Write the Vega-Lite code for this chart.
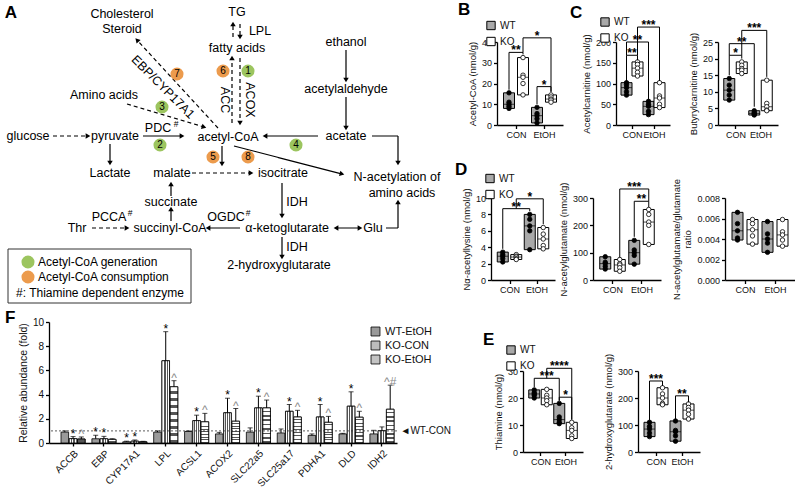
{
"$schema":"https://vega.github.io/schema/vega-lite/v6.json",
"padding":0,
"spacing":-27,
"resolve":{"scale":{"fill":"independent","strokeDash":"independent","color":"independent"},"legend":{"fill":"independent","strokeDash":"independent","color":"independent"}},
"config":{
 "font":"Liberation Sans",
 "view":{"stroke":null},
 "axis":{"grid":false,"domainColor":"black","domainWidth":1.3,"tickColor":"black","tickWidth":1.3,"tickSize":3.5,"labelColor":"#111","labelFontSize":9,"titleColor":"#111","titleFontSize":9.5,"titleFontWeight":"normal","labelFont":"Liberation Sans","titleFont":"Liberation Sans","labelPadding":2,"titlePadding":4},
 "legend":{"labelFont":"Liberation Sans","labelColor":"#111"},
 "title":{"fontSize":17,"fontWeight":"bold","anchor":"start","color":"black","font":"Liberation Sans","frame":"group","baseline":"alphabetic"},
 "text":{"font":"Liberation Sans","color":"black"}
},
"datasets":{
 "atext":[
  {"t":"A","x":11,"y":13,"r":"letter"},
  {"t":"Cholesterol","x":122,"y":14,"r":"n"},
  {"t":"Steroid","x":122,"y":29,"r":"n"},
  {"t":"TG","x":237,"y":12,"r":"n"},
  {"t":"LPL","x":260,"y":31,"r":"n"},
  {"t":"fatty acids","x":237,"y":48,"r":"n"},
  {"t":"ethanol","x":346,"y":42,"r":"n"},
  {"t":"acetylaldehyde","x":346,"y":89,"r":"n"},
  {"t":"Amino acids","x":104,"y":95,"r":"n"},
  {"t":"glucose","x":28,"y":136,"r":"n"},
  {"t":"pyruvate","x":115,"y":136,"r":"n"},
  {"t":"PDC","x":158,"y":128,"r":"n"},
  {"t":"acetyl-CoA","x":228,"y":137,"r":"n"},
  {"t":"acetate","x":346,"y":136,"r":"n"},
  {"t":"Lactate","x":110,"y":173,"r":"n"},
  {"t":"malate","x":172,"y":173,"r":"n"},
  {"t":"isocitrate","x":283,"y":173,"r":"n"},
  {"t":"N-acetylation of","x":397,"y":177,"r":"n"},
  {"t":"amino acids","x":402,"y":193,"r":"n"},
  {"t":"succinate","x":171,"y":202,"r":"n"},
  {"t":"IDH","x":297,"y":202,"r":"n"},
  {"t":"OGDC","x":226,"y":217,"r":"n"},
  {"t":"PCCA","x":109,"y":217,"r":"n"},
  {"t":"Thr","x":77,"y":228,"r":"n"},
  {"t":"succinyl-CoA","x":170,"y":228,"r":"n"},
  {"t":"α-ketoglutarate","x":287,"y":228,"r":"n"},
  {"t":"Glu","x":373,"y":228,"r":"n"},
  {"t":"IDH","x":297,"y":247,"r":"n"},
  {"t":"2-hydroxyglutarate","x":279,"y":265,"r":"n"},
  {"t":"#","x":176,"y":124,"r":"sup"},
  {"t":"#","x":248,"y":213,"r":"sup"},
  {"t":"#","x":130,"y":213,"r":"sup"},
  {"t":"EBP/CYP17A1","x":163,"y":87,"r":"rot","a":45},
  {"t":"ACC","x":225,"y":100,"r":"rot","a":90},
  {"t":"ACOX","x":250,"y":100,"r":"rot","a":90},
  {"t":"Acetyl-CoA generation","x":38,"y":262,"r":"leg"},
  {"t":"Acetyl-CoA consumption","x":38,"y":277,"r":"leg"},
  {"t":"#: Thiamine dependent enzyme","x":16,"y":293,"r":"leg"}
 ],
 "circ":[
  {"x":248,"y":71,"n":"1","t":"gen"},
  {"x":223,"y":71,"n":"6","t":"con"},
  {"x":177,"y":74,"n":"7","t":"con"},
  {"x":162,"y":107,"n":"3","t":"gen"},
  {"x":160,"y":145,"n":"2","t":"gen"},
  {"x":296,"y":145,"n":"4","t":"gen"},
  {"x":213,"y":157,"n":"5","t":"con"},
  {"x":248,"y":157,"n":"8","t":"con"},
  {"x":28,"y":262,"n":"","t":"gen"},
  {"x":28,"y":277,"n":"","t":"con"}
 ],
 "segs":[
  {"x":233,"y":37,"x2":233,"y2":24,"k":"i","h2":true},
  {"x":240,"y":24,"x2":240,"y2":37,"k":"i","h2":true},
  {"x":218,"y":128,"x2":137,"y2":40,"k":"i","h2":true},
  {"x":127,"y":104,"x2":204,"y2":127,"k":"i","h2":true},
  {"x":232,"y":123,"x2":232,"y2":58,"k":"i","h2":true},
  {"x":240,"y":58,"x2":240,"y2":123,"k":"i","h2":true},
  {"x":53,"y":136,"x2":88,"y2":136,"k":"i","h2":true},
  {"x":143,"y":136,"x2":182,"y2":136,"k":"d","h2":true},
  {"x":110,"y":144,"x2":110,"y2":163,"k":"d","h2":true},
  {"x":346,"y":50,"x2":346,"y2":80,"k":"d","h2":true},
  {"x":346,"y":97,"x2":346,"y2":128,"k":"d","h2":true},
  {"x":318,"y":136,"x2":265,"y2":136,"k":"d","h2":true},
  {"x":372,"y":136,"x2":398,"y2":136,"k":"d","h2":false},
  {"x":398,"y":136,"x2":398,"y2":163,"k":"d","h2":true},
  {"x":234,"y":146,"x2":342,"y2":174,"k":"d","h2":true},
  {"x":222,"y":146,"x2":222,"y2":164,"k":"d","h2":true},
  {"x":192,"y":173,"x2":251,"y2":173,"k":"i","h2":true},
  {"x":282,"y":183,"x2":282,"y2":216,"k":"d","h2":true},
  {"x":240,"y":228,"x2":208,"y2":228,"k":"d","h2":true},
  {"x":336,"y":228,"x2":360,"y2":228,"k":"d","h1":true,"h2":true},
  {"x":386,"y":228,"x2":398,"y2":228,"k":"d","h2":false},
  {"x":398,"y":228,"x2":398,"y2":202,"k":"d","h2":true},
  {"x":171,"y":221,"x2":171,"y2":209,"k":"d","h2":true},
  {"x":171,"y":196,"x2":171,"y2":184,"k":"d","h2":true},
  {"x":92,"y":228,"x2":127,"y2":228,"k":"i","h2":true},
  {"x":282,"y":237,"x2":282,"y2":257,"k":"d","h2":true}
 ],
 "lbox":[{"x":8,"y":249,"x2":191,"y2":303}],
 "pts":[
  {"p":"B","g":"CON","k":"WT","v":15.5},{"p":"B","g":"CON","k":"WT","v":11},{"p":"B","g":"CON","k":"WT","v":10},{"p":"B","g":"CON","k":"WT","v":9},{"p":"B","g":"CON","k":"WT","v":8},
  {"p":"B","g":"CON","k":"KO","v":32.5},{"p":"B","g":"CON","k":"KO","v":24},{"p":"B","g":"CON","k":"KO","v":23},{"p":"B","g":"CON","k":"KO","v":20},{"p":"B","g":"CON","k":"KO","v":14.5},
  {"p":"B","g":"EtOH","k":"WT","v":8.5},{"p":"B","g":"EtOH","k":"WT","v":5.5},{"p":"B","g":"EtOH","k":"WT","v":4.5},{"p":"B","g":"EtOH","k":"WT","v":3},{"p":"B","g":"EtOH","k":"WT","v":1},
  {"p":"B","g":"EtOH","k":"KO","v":14.5},{"p":"B","g":"EtOH","k":"KO","v":13.5},{"p":"B","g":"EtOH","k":"KO","v":12.5},{"p":"B","g":"EtOH","k":"KO","v":12},{"p":"B","g":"EtOH","k":"KO","v":11},
  {"p":"C1","g":"CON","k":"WT","v":102},{"p":"C1","g":"CON","k":"WT","v":97},{"p":"C1","g":"CON","k":"WT","v":90},{"p":"C1","g":"CON","k":"WT","v":80},{"p":"C1","g":"CON","k":"WT","v":72},
  {"p":"C1","g":"CON","k":"KO","v":152},{"p":"C1","g":"CON","k":"KO","v":146},{"p":"C1","g":"CON","k":"KO","v":137},{"p":"C1","g":"CON","k":"KO","v":127},{"p":"C1","g":"CON","k":"KO","v":118},
  {"p":"C1","g":"EtOH","k":"WT","v":57},{"p":"C1","g":"EtOH","k":"WT","v":50},{"p":"C1","g":"EtOH","k":"WT","v":45},{"p":"C1","g":"EtOH","k":"WT","v":33},{"p":"C1","g":"EtOH","k":"WT","v":25},
  {"p":"C1","g":"EtOH","k":"KO","v":102},{"p":"C1","g":"EtOH","k":"KO","v":70},{"p":"C1","g":"EtOH","k":"KO","v":65},{"p":"C1","g":"EtOH","k":"KO","v":50},{"p":"C1","g":"EtOH","k":"KO","v":42},
  {"p":"C2","g":"CON","k":"WT","v":14},{"p":"C2","g":"CON","k":"WT","v":12},{"p":"C2","g":"CON","k":"WT","v":10.5},{"p":"C2","g":"CON","k":"WT","v":9},{"p":"C2","g":"CON","k":"WT","v":7.5},
  {"p":"C2","g":"CON","k":"KO","v":19},{"p":"C2","g":"CON","k":"KO","v":18},{"p":"C2","g":"CON","k":"KO","v":17},{"p":"C2","g":"CON","k":"KO","v":16.5},{"p":"C2","g":"CON","k":"KO","v":15.5},
  {"p":"C2","g":"EtOH","k":"WT","v":4.3},{"p":"C2","g":"EtOH","k":"WT","v":3.8},{"p":"C2","g":"EtOH","k":"WT","v":3.5},{"p":"C2","g":"EtOH","k":"WT","v":3.2},{"p":"C2","g":"EtOH","k":"WT","v":3},
  {"p":"C2","g":"EtOH","k":"KO","v":13.5},{"p":"C2","g":"EtOH","k":"KO","v":6.5},{"p":"C2","g":"EtOH","k":"KO","v":5.5},{"p":"C2","g":"EtOH","k":"KO","v":4.5},{"p":"C2","g":"EtOH","k":"KO","v":4.3},
  {"p":"D1","g":"CON","k":"WT","v":3.4},{"p":"D1","g":"CON","k":"WT","v":3.1},{"p":"D1","g":"CON","k":"WT","v":2.9},{"p":"D1","g":"CON","k":"WT","v":2.6},{"p":"D1","g":"CON","k":"WT","v":2.2},
  {"p":"D1","g":"CON","k":"KO","v":3.1},{"p":"D1","g":"CON","k":"KO","v":2.9},{"p":"D1","g":"CON","k":"KO","v":2.8},{"p":"D1","g":"CON","k":"KO","v":2.6},{"p":"D1","g":"CON","k":"KO","v":2.5},
  {"p":"D1","g":"EtOH","k":"WT","v":8},{"p":"D1","g":"EtOH","k":"WT","v":7.4},{"p":"D1","g":"EtOH","k":"WT","v":6.6},{"p":"D1","g":"EtOH","k":"WT","v":6},{"p":"D1","g":"EtOH","k":"WT","v":3.7},
  {"p":"D1","g":"EtOH","k":"KO","v":6.4},{"p":"D1","g":"EtOH","k":"KO","v":5.6},{"p":"D1","g":"EtOH","k":"KO","v":5},{"p":"D1","g":"EtOH","k":"KO","v":4.2},{"p":"D1","g":"EtOH","k":"KO","v":3.8},
  {"p":"D2","g":"CON","k":"WT","v":85},{"p":"D2","g":"CON","k":"WT","v":65},{"p":"D2","g":"CON","k":"WT","v":60},{"p":"D2","g":"CON","k":"WT","v":50},{"p":"D2","g":"CON","k":"WT","v":40},
  {"p":"D2","g":"CON","k":"KO","v":75},{"p":"D2","g":"CON","k":"KO","v":60},{"p":"D2","g":"CON","k":"KO","v":55},{"p":"D2","g":"CON","k":"KO","v":45},{"p":"D2","g":"CON","k":"KO","v":32},
  {"p":"D2","g":"EtOH","k":"WT","v":145},{"p":"D2","g":"EtOH","k":"WT","v":110},{"p":"D2","g":"EtOH","k":"WT","v":100},{"p":"D2","g":"EtOH","k":"WT","v":90},{"p":"D2","g":"EtOH","k":"WT","v":58},
  {"p":"D2","g":"EtOH","k":"KO","v":258},{"p":"D2","g":"EtOH","k":"KO","v":240},{"p":"D2","g":"EtOH","k":"KO","v":212},{"p":"D2","g":"EtOH","k":"KO","v":200},{"p":"D2","g":"EtOH","k":"KO","v":130},
  {"p":"D3","g":"CON","k":"WT","v":0.0066},{"p":"D3","g":"CON","k":"WT","v":0.0055},{"p":"D3","g":"CON","k":"WT","v":0.0048},{"p":"D3","g":"CON","k":"WT","v":0.0041},{"p":"D3","g":"CON","k":"WT","v":0.0039},
  {"p":"D3","g":"CON","k":"KO","v":0.0059},{"p":"D3","g":"CON","k":"KO","v":0.0055},{"p":"D3","g":"CON","k":"KO","v":0.0049},{"p":"D3","g":"CON","k":"KO","v":0.0043},{"p":"D3","g":"CON","k":"KO","v":0.0035},
  {"p":"D3","g":"EtOH","k":"WT","v":0.0057},{"p":"D3","g":"EtOH","k":"WT","v":0.0045},{"p":"D3","g":"EtOH","k":"WT","v":0.004},{"p":"D3","g":"EtOH","k":"WT","v":0.0036},{"p":"D3","g":"EtOH","k":"WT","v":0.0027},
  {"p":"D3","g":"EtOH","k":"KO","v":0.0059},{"p":"D3","g":"EtOH","k":"KO","v":0.0047},{"p":"D3","g":"EtOH","k":"KO","v":0.0044},{"p":"D3","g":"EtOH","k":"KO","v":0.0039},{"p":"D3","g":"EtOH","k":"KO","v":0.0033},
  {"p":"E1","g":"CON","k":"WT","v":23},{"p":"E1","g":"CON","k":"WT","v":22},{"p":"E1","g":"CON","k":"WT","v":21.5},{"p":"E1","g":"CON","k":"WT","v":21},{"p":"E1","g":"CON","k":"WT","v":20},
  {"p":"E1","g":"CON","k":"KO","v":23.2},{"p":"E1","g":"CON","k":"KO","v":21},{"p":"E1","g":"CON","k":"KO","v":20},{"p":"E1","g":"CON","k":"KO","v":19},{"p":"E1","g":"CON","k":"KO","v":17.5},
  {"p":"E1","g":"EtOH","k":"WT","v":18},{"p":"E1","g":"EtOH","k":"WT","v":13},{"p":"E1","g":"EtOH","k":"WT","v":12},{"p":"E1","g":"EtOH","k":"WT","v":11},{"p":"E1","g":"EtOH","k":"WT","v":10.5},
  {"p":"E1","g":"EtOH","k":"KO","v":11},{"p":"E1","g":"EtOH","k":"KO","v":9},{"p":"E1","g":"EtOH","k":"KO","v":8},{"p":"E1","g":"EtOH","k":"KO","v":6},{"p":"E1","g":"EtOH","k":"KO","v":5},
  {"p":"E2","g":"CON","k":"WT","v":110},{"p":"E2","g":"CON","k":"WT","v":95},{"p":"E2","g":"CON","k":"WT","v":85},{"p":"E2","g":"CON","k":"WT","v":70},{"p":"E2","g":"CON","k":"WT","v":57},
  {"p":"E2","g":"CON","k":"KO","v":238},{"p":"E2","g":"CON","k":"KO","v":215},{"p":"E2","g":"CON","k":"KO","v":200},{"p":"E2","g":"CON","k":"KO","v":180},{"p":"E2","g":"CON","k":"KO","v":175},
  {"p":"E2","g":"EtOH","k":"WT","v":115},{"p":"E2","g":"EtOH","k":"WT","v":80},{"p":"E2","g":"EtOH","k":"WT","v":75},{"p":"E2","g":"EtOH","k":"WT","v":60},{"p":"E2","g":"EtOH","k":"WT","v":40},
  {"p":"E2","g":"EtOH","k":"KO","v":178},{"p":"E2","g":"EtOH","k":"KO","v":165},{"p":"E2","g":"EtOH","k":"KO","v":155},{"p":"E2","g":"EtOH","k":"KO","v":140},{"p":"E2","g":"EtOH","k":"KO","v":122}
 ],
 "br":[
  {"p":"B","g1":"CON","k1":"WT","g2":"CON","k2":"KO","lv":35,"l1":17,"l2":34,"s":"**"},
  {"p":"B","g1":"CON","k1":"KO","g2":"EtOH","k2":"KO","lv":42,"l1":35,"l2":16,"s":"*"},
  {"p":"B","g1":"EtOH","k1":"WT","g2":"EtOH","k2":"KO","lv":18.5,"l1":10,"l2":16,"s":"*"},
  {"p":"C1","g1":"CON","k1":"WT","g2":"CON","k2":"KO","lv":168,"l1":106,"l2":156,"s":"**"},
  {"p":"C1","g1":"CON","k1":"WT","g2":"EtOH","k2":"WT","lv":200,"l1":168,"l2":62,"s":"**"},
  {"p":"C1","g1":"CON","k1":"KO","g2":"EtOH","k2":"KO","lv":236,"l1":168,"l2":106,"s":"***"},
  {"p":"C2","g1":"CON","k1":"WT","g2":"CON","k2":"KO","lv":21,"l1":15,"l2":20,"s":"*"},
  {"p":"C2","g1":"CON","k1":"WT","g2":"EtOH","k2":"WT","lv":24.5,"l1":21,"l2":5.5,"s":"**"},
  {"p":"C2","g1":"CON","k1":"KO","g2":"EtOH","k2":"KO","lv":28.5,"l1":21,"l2":14.5,"s":"***"},
  {"p":"D1","g1":"CON","k1":"WT","g2":"EtOH","k2":"WT","lv":8.7,"l1":3.8,"l2":8.4,"s":"**"},
  {"p":"D1","g1":"CON","k1":"KO","g2":"EtOH","k2":"KO","lv":9.9,"l1":8.7,"l2":6.8,"s":"*"},
  {"p":"D2","g1":"CON","k1":"KO","g2":"EtOH","k2":"KO","lv":333,"l1":82,"l2":288,"s":"***"},
  {"p":"D2","g1":"EtOH","k1":"WT","g2":"EtOH","k2":"KO","lv":288,"l1":158,"l2":266,"s":"**"},
  {"p":"E1","g1":"CON","k1":"WT","g2":"EtOH","k2":"WT","lv":27.3,"l1":24,"l2":19,"s":"***"},
  {"p":"E1","g1":"CON","k1":"KO","g2":"EtOH","k2":"KO","lv":31,"l1":27.3,"l2":12,"s":"****"},
  {"p":"E1","g1":"EtOH","k1":"WT","g2":"EtOH","k2":"KO","lv":20.3,"l1":19,"l2":12,"s":"*"},
  {"p":"E2","g1":"CON","k1":"WT","g2":"CON","k2":"KO","lv":263,"l1":118,"l2":245,"s":"***"},
  {"p":"E2","g1":"EtOH","k1":"WT","g2":"EtOH","k2":"KO","lv":208,"l1":122,"l2":184,"s":"**"}
 ],
 "fold":[
  {"gene":"ACCB","s":"WT-EtOH","m":0.9,"e":1.0,"sig":""},{"gene":"ACCB","s":"KO-CON","m":0.36,"e":0.53,"sig":"*"},{"gene":"ACCB","s":"KO-EtOH","m":0.33,"e":0.5,"sig":"^"},
  {"gene":"EBP","s":"WT-EtOH","m":0.35,"e":0.64,"sig":"*"},{"gene":"EBP","s":"KO-CON","m":0.35,"e":0.55,"sig":"*"},{"gene":"EBP","s":"KO-EtOH","m":0.3,"e":0.35,"sig":""},
  {"gene":"CYP17A1","s":"WT-EtOH","m":0.1,"e":0.15,"sig":"*"},{"gene":"CYP17A1","s":"KO-CON","m":0.15,"e":0.25,"sig":"*"},{"gene":"CYP17A1","s":"KO-EtOH","m":0.1,"e":0.14,"sig":""},
  {"gene":"LPL","s":"WT-EtOH","m":0.9,"e":1.0,"sig":""},{"gene":"LPL","s":"KO-CON","m":6.8,"e":9.2,"sig":"*"},{"gene":"LPL","s":"KO-EtOH","m":4.65,"e":5.15,"sig":"^"},
  {"gene":"ACSL1","s":"WT-EtOH","m":0.95,"e":1.0,"sig":""},{"gene":"ACSL1","s":"KO-CON","m":1.85,"e":2.3,"sig":"*"},{"gene":"ACSL1","s":"KO-EtOH","m":1.75,"e":2.45,"sig":"^"},
  {"gene":"ACOX2","s":"WT-EtOH","m":0.75,"e":0.88,"sig":""},{"gene":"ACOX2","s":"KO-CON","m":2.5,"e":3.7,"sig":"*"},{"gene":"ACOX2","s":"KO-EtOH","m":1.8,"e":2.85,"sig":"^"},
  {"gene":"SLC22a5","s":"WT-EtOH","m":0.9,"e":1.25,"sig":""},{"gene":"SLC22a5","s":"KO-CON","m":2.9,"e":3.87,"sig":"*"},{"gene":"SLC22a5","s":"KO-EtOH","m":2.9,"e":3.55,"sig":"^"},
  {"gene":"SLC25a17","s":"WT-EtOH","m":0.83,"e":1.16,"sig":""},{"gene":"SLC25a17","s":"KO-CON","m":2.62,"e":3.18,"sig":"*"},{"gene":"SLC25a17","s":"KO-EtOH","m":2.15,"e":2.7,"sig":"^"},
  {"gene":"PDHA1","s":"WT-EtOH","m":0.63,"e":0.75,"sig":""},{"gene":"PDHA1","s":"KO-CON","m":2.15,"e":3.18,"sig":"*"},{"gene":"PDHA1","s":"KO-EtOH","m":1.71,"e":2.2,"sig":"^"},
  {"gene":"DLD","s":"WT-EtOH","m":0.75,"e":0.8,"sig":""},{"gene":"DLD","s":"KO-CON","m":3.04,"e":4.23,"sig":"*"},{"gene":"DLD","s":"KO-EtOH","m":2.13,"e":2.62,"sig":"^"},
  {"gene":"IDH2","s":"WT-EtOH","m":0.75,"e":1.05,"sig":""},{"gene":"IDH2","s":"KO-CON","m":1.02,"e":1.33,"sig":""},{"gene":"IDH2","s":"KO-EtOH","m":2.79,"e":4.78,"sig":"^#"}
 ]
},
"hconcat":[
 {"spacing":5,
  "resolve":{"scale":{"fill":"independent","strokeDash":"independent","color":"independent"},"legend":{"fill":"independent","strokeDash":"independent","color":"independent"}},
  "vconcat":[
  {"width":400,"height":300,
   "layer":[
    {"data":{"name":"lbox"},"mark":{"type":"rect","fill":"transparent","stroke":"#333","strokeWidth":1},
     "encoding":{"x":{"field":"x","type":"quantitative","scale":{"domain":[0,400],"nice":false,"zero":false},"axis":null},"x2":{"field":"x2"},
                 "y":{"field":"y","type":"quantitative","scale":{"domain":[0,300],"nice":false,"zero":false,"reverse":true},"axis":null},"y2":{"field":"y2"}}},
    {"data":{"name":"segs"},"mark":{"type":"rule","color":"black","strokeWidth":1.2},
     "encoding":{"x":{"field":"x","type":"quantitative","axis":null},"x2":{"field":"x2"},"y":{"field":"y","type":"quantitative","axis":null},"y2":{"field":"y2"},
                 "strokeDash":{"field":"k","type":"nominal","scale":{"domain":["d","i"],"range":[[1,0],[4,3]]},"legend":null}}},
    {"data":{"name":"segs"},"transform":[{"filter":"datum.h2"},{"calculate":"atan2(datum.x2-datum.x, datum.y-datum.y2)*180/PI","as":"ang"}],
     "mark":{"type":"point","shape":"triangle-up","filled":true,"color":"black","size":30,"opacity":1},
     "encoding":{"x":{"field":"x2","type":"quantitative","axis":null},"y":{"field":"y2","type":"quantitative","axis":null},"angle":{"field":"ang","type":"quantitative","scale":null}}},
    {"data":{"name":"segs"},"transform":[{"filter":"datum.h1"},{"calculate":"atan2(datum.x-datum.x2, datum.y2-datum.y)*180/PI","as":"ang"}],
     "mark":{"type":"point","shape":"triangle-up","filled":true,"color":"black","size":30,"opacity":1},
     "encoding":{"x":{"field":"x","type":"quantitative","axis":null},"y":{"field":"y","type":"quantitative","axis":null},"angle":{"field":"ang","type":"quantitative","scale":null}}},
    {"data":{"name":"circ"},"mark":{"type":"circle","size":170,"opacity":1},
     "encoding":{"x":{"field":"x","type":"quantitative","axis":null},"y":{"field":"y","type":"quantitative","axis":null},
                 "fill":{"field":"t","type":"nominal","scale":{"domain":["gen","con"],"range":["#9cc55f","#ec9b4d"]},"legend":null}}},
    {"data":{"name":"circ"},"mark":{"type":"text","fontSize":10,"align":"center","baseline":"middle"},
     "encoding":{"x":{"field":"x","type":"quantitative","axis":null},"y":{"field":"y","type":"quantitative","axis":null},"text":{"field":"n"}}},
    {"data":{"name":"atext"},"transform":[{"filter":"datum.r=='n'"}],"mark":{"type":"text","fontSize":12.5,"align":"center","baseline":"middle"},
     "encoding":{"x":{"field":"x","type":"quantitative","axis":null},"y":{"field":"y","type":"quantitative","axis":null},"text":{"field":"t"}}},
    {"data":{"name":"atext"},"transform":[{"filter":"datum.r=='sup'"}],"mark":{"type":"text","fontSize":8.5,"align":"center","baseline":"middle"},
     "encoding":{"x":{"field":"x","type":"quantitative","axis":null},"y":{"field":"y","type":"quantitative","axis":null},"text":{"field":"t"}}},
    {"data":{"name":"atext"},"transform":[{"filter":"datum.r=='rot'"}],"mark":{"type":"text","fontSize":12.5,"align":"center","baseline":"middle"},
     "encoding":{"x":{"field":"x","type":"quantitative","axis":null},"y":{"field":"y","type":"quantitative","axis":null},"text":{"field":"t"},"angle":{"field":"a","type":"quantitative","scale":null}}},
    {"data":{"name":"atext"},"transform":[{"filter":"datum.r=='leg'"}],"mark":{"type":"text","fontSize":12,"align":"left","baseline":"middle"},
     "encoding":{"x":{"field":"x","type":"quantitative","axis":null},"y":{"field":"y","type":"quantitative","axis":null},"text":{"field":"t"}}},
    {"data":{"name":"atext"},"transform":[{"filter":"datum.r=='letter'"}],"mark":{"type":"text","fontSize":17,"fontWeight":"bold","align":"center","baseline":"middle"},
     "encoding":{"x":{"field":"x","type":"quantitative","axis":null},"y":{"field":"y","type":"quantitative","axis":null},"text":{"field":"t"}}}
   ]},
  {"bounds":"flush","spacing":0,
   "resolve":{"scale":{"fill":"independent","strokeDash":"independent","color":"independent"},"legend":{"fill":"independent","strokeDash":"independent","color":"independent"}},
   "hconcat":[
   {"width":49,"height":1,"data":{"values":[{}]},"mark":{"type":"text","fontSize":0},"encoding":{"text":{"value":""}}},
   {"width":348,"height":121,
    "title":{"text":"F","dx":-44,"offset":-10},
    "data":{"name":"fold"},
    "resolve":{"axis":{"y":"independent"}},
    "layer":[
     {"mark":{"type":"bar","stroke":"black","strokeWidth":0.8},
      "encoding":{
       "x":{"field":"gene","type":"nominal","sort":null,"scale":{"domain":["ACCB","EBP","CYP17A1","LPL","ACSL1","ACOX2","SLC22a5","SLC25a17","PDHA1","DLD","IDH2"],"paddingInner":0.22,"paddingOuter":0.243,"align":0.8},"axis":{"title":null,"labelAngle":-45,"labelFontSize":10,"tickSize":3}},
       "xOffset":{"field":"s","type":"nominal","sort":null,"scale":{"domain":["WT-EtOH","KO-CON","KO-EtOH"],"paddingInner":0.08}},
       "y":{"field":"m","type":"quantitative","scale":{"domain":[0,10],"nice":false},"axis":{"values":[0,2,4,6,8,10],"title":"Relative abundance (fold)","titleFontSize":10.5,"labelFontSize":10}},
       "fill":{"field":"s","type":"nominal","scale":{"domain":["WT-EtOH","KO-CON","KO-EtOH"],"range":["#9a9a9a","#bdbdbd","#c4c4c4"]},
        "legend":{"orient":"none","legendX":321,"legendY":4,"title":null,"symbolType":"square","symbolSize":80,"symbolStrokeColor":"black","symbolStrokeWidth":0.8,"labelFontSize":11,"rowPadding":1}}
      }},
     {"transform":[{"filter":"datum.s=='KO-CON'"}],
      "mark":{"type":"bar","stroke":"black","strokeWidth":0.8,
        "fill":{"gradient":"linear","x1":0,"y1":0,"x2":1,"y2":0,"stops":[{"offset":0,"color":"#ffffff"},{"offset":0.22,"color":"#ffffff"},{"offset":0.22,"color":"#555555"},{"offset":0.34,"color":"#555555"},{"offset":0.34,"color":"#ffffff"},{"offset":0.44,"color":"#ffffff"},{"offset":0.44,"color":"#555555"},{"offset":0.56,"color":"#555555"},{"offset":0.56,"color":"#ffffff"},{"offset":0.66,"color":"#ffffff"},{"offset":0.66,"color":"#555555"},{"offset":0.78,"color":"#555555"},{"offset":0.78,"color":"#ffffff"},{"offset":1,"color":"#ffffff"}]}},
      "encoding":{"x":{"field":"gene","type":"nominal","sort":null},"xOffset":{"field":"s","type":"nominal","sort":null},"y":{"field":"m","type":"quantitative","axis":null}}},
     {"transform":[{"filter":"datum.s=='KO-EtOH'"}],
      "mark":{"type":"bar","stroke":"black","strokeWidth":0.8,
        "fill":{"gradient":"linear","x1":0,"y1":0,"x2":0,"y2":1,"stops":[{"offset":0,"color":"#ffffff"},{"offset":0.08,"color":"#ffffff"},{"offset":0.08,"color":"#555555"},{"offset":0.125,"color":"#555555"},{"offset":0.125,"color":"#ffffff"},{"offset":0.205,"color":"#ffffff"},{"offset":0.205,"color":"#555555"},{"offset":0.25,"color":"#555555"},{"offset":0.25,"color":"#ffffff"},{"offset":0.33,"color":"#ffffff"},{"offset":0.33,"color":"#555555"},{"offset":0.375,"color":"#555555"},{"offset":0.375,"color":"#ffffff"},{"offset":0.455,"color":"#ffffff"},{"offset":0.455,"color":"#555555"},{"offset":0.5,"color":"#555555"},{"offset":0.5,"color":"#ffffff"},{"offset":0.58,"color":"#ffffff"},{"offset":0.58,"color":"#555555"},{"offset":0.625,"color":"#555555"},{"offset":0.625,"color":"#ffffff"},{"offset":0.705,"color":"#ffffff"},{"offset":0.705,"color":"#555555"},{"offset":0.75,"color":"#555555"},{"offset":0.75,"color":"#ffffff"},{"offset":0.83,"color":"#ffffff"},{"offset":0.83,"color":"#555555"},{"offset":0.875,"color":"#555555"},{"offset":0.875,"color":"#ffffff"},{"offset":0.955,"color":"#ffffff"},{"offset":0.955,"color":"#555555"},{"offset":1,"color":"#555555"}]}},
      "encoding":{"x":{"field":"gene","type":"nominal","sort":null},"xOffset":{"field":"s","type":"nominal","sort":null},"y":{"field":"m","type":"quantitative","axis":null}}},
     {"mark":{"type":"rule","color":"black","strokeWidth":1},
      "encoding":{"x":{"field":"gene","type":"nominal","sort":null},"xOffset":{"field":"s","type":"nominal","sort":null},"y":{"field":"m","type":"quantitative","axis":null},"y2":{"field":"e"}}},
     {"mark":{"type":"tick","orient":"horizontal","size":5,"thickness":1,"color":"black"},
      "encoding":{"x":{"field":"gene","type":"nominal","sort":null},"xOffset":{"field":"s","type":"nominal","sort":null},"y":{"field":"e","type":"quantitative","axis":null}}},
     {"mark":{"type":"text","fontSize":12,"baseline":"alphabetic","dy":1},
      "encoding":{"x":{"field":"gene","type":"nominal","sort":null},"xOffset":{"field":"s","type":"nominal","sort":null},"y":{"field":"e","type":"quantitative","axis":null},"text":{"field":"sig"},
                  "color":{"condition":{"test":"indexof(datum.sig,'^')>=0","value":"#8a8a8a"},"value":"black"}}},
     {"data":{"values":[{}]},"mark":{"type":"rule","strokeDash":[2,2],"color":"#333","strokeWidth":0.8},
      "encoding":{"y":{"datum":1,"type":"quantitative","axis":{"orient":"right","values":[1],"labelExpr":"'◄WT-CON'","domain":false,"ticks":false,"title":null,"labelFontSize":10,"labelPadding":3}}}}
    ]}
  ]}
 ]},
 {"spacing":0,
  "resolve":{"scale":{"fill":"independent","strokeDash":"independent","color":"independent"},"legend":{"fill":"independent","strokeDash":"independent","color":"independent"}},
  "vconcat":[
  {"width":1,"height":1,"data":{"values":[{}]},"mark":{"type":"text","fontSize":0},"encoding":{"text":{"value":""}}},
  {"bounds":"flush","spacing":0,
   "resolve":{"scale":{"fill":"independent","strokeDash":"independent","color":"independent"},"legend":{"fill":"independent","strokeDash":"independent","color":"independent"}},
   "hconcat":[
   {"width":46,"height":1,"data":{"values":[{}]},"mark":{"type":"text","fontSize":0},"encoding":{"text":{"value":""}}},
   {"width":66,"height":83,"title":{"text":"B","dx":-39,"offset":1.5},
    "resolve":{"axis":{"x":"independent","y":"independent"}},
    "layer":[
     {"data":{"name":"pts"},"transform":[{"filter":"datum.p=='B'"},{"calculate":"(datum.g=='CON'?1:2)+(datum.k=='WT'?-0.25:0.25)","as":"pos"},{"aggregate":[{"op":"min","field":"v","as":"lo"},{"op":"max","field":"v","as":"hi"}],"groupby":["pos","k"]}],
      "mark":{"type":"bar","width":11,"stroke":"black","strokeWidth":1},
      "encoding":{"x":{"field":"pos","type":"quantitative","scale":{"domain":[0.5,2.5],"nice":false,"zero":false},"axis":{"values":[1,2],"labelExpr":"datum.value==1?'CON':'EtOH'","title":null,"labelFontSize":9}},
                  "y":{"field":"lo","type":"quantitative","scale":{"domain":[0,40],"nice":false},"axis":{"values":[0,10,20,30,40],"title":"Acetyl-CoA (nmol/g)"}},"y2":{"field":"hi"},
                  "fill":{"field":"k","type":"nominal","scale":{"domain":["WT","KO"],"range":["#a9a9a9","#ffffff"]},"legend":{"orient":"none","legendX":-11,"legendY":-21.5,"title":null,"symbolType":"square","symbolSize":70,"symbolStrokeColor":"black","symbolStrokeWidth":1,"labelFontSize":10,"rowPadding":2}}}},
     {"data":{"name":"pts"},"transform":[{"filter":"datum.p=='B'"},{"calculate":"(datum.g=='CON'?1:2)+(datum.k=='WT'?-0.25:0.25)","as":"pos"},{"aggregate":[{"op":"median","field":"v","as":"md"}],"groupby":["pos"]}],
      "mark":{"type":"tick","orient":"horizontal","size":11,"thickness":1,"color":"black"},
      "encoding":{"x":{"field":"pos","type":"quantitative","axis":null},"y":{"field":"md","type":"quantitative","axis":null}}},
     {"data":{"name":"pts"},"transform":[{"filter":"datum.p=='B'"},{"calculate":"(datum.g=='CON'?1:2)+(datum.k=='WT'?-0.25:0.25)","as":"pos"}],
      "mark":{"type":"point","filled":true,"size":20,"stroke":"black","strokeWidth":0.8,"opacity":1},
      "encoding":{"x":{"field":"pos","type":"quantitative","axis":null},"y":{"field":"v","type":"quantitative","axis":null},"fill":{"condition":{"test":"datum.k=='WT'","value":"black"},"value":"white"}}},
     {"data":{"name":"br"},"transform":[{"filter":"datum.p=='B'"},{"calculate":"(datum.g1=='CON'?1:2)+(datum.k1=='WT'?-0.25:0.25)","as":"bx1"},{"calculate":"(datum.g2=='CON'?1:2)+(datum.k2=='WT'?-0.25:0.25)","as":"bx2"}],
      "mark":{"type":"rule","color":"black","strokeWidth":1},"encoding":{"x":{"field":"bx1","type":"quantitative","axis":null},"x2":{"field":"bx2"},"y":{"field":"lv","type":"quantitative","axis":null}}},
     {"data":{"name":"br"},"transform":[{"filter":"datum.p=='B'"},{"calculate":"(datum.g1=='CON'?1:2)+(datum.k1=='WT'?-0.25:0.25)","as":"bx1"}],
      "mark":{"type":"rule","color":"black","strokeWidth":1},"encoding":{"x":{"field":"bx1","type":"quantitative","axis":null},"y":{"field":"lv","type":"quantitative","axis":null},"y2":{"field":"l1"}}},
     {"data":{"name":"br"},"transform":[{"filter":"datum.p=='B'"},{"calculate":"(datum.g2=='CON'?1:2)+(datum.k2=='WT'?-0.25:0.25)","as":"bx2"}],
      "mark":{"type":"rule","color":"black","strokeWidth":1},"encoding":{"x":{"field":"bx2","type":"quantitative","axis":null},"y":{"field":"lv","type":"quantitative","axis":null},"y2":{"field":"l2"}}},
     {"data":{"name":"br"},"transform":[{"filter":"datum.p=='B'"},{"calculate":"((datum.g1=='CON'?1:2)+(datum.k1=='WT'?-0.25:0.25)+(datum.g2=='CON'?1:2)+(datum.k2=='WT'?-0.25:0.25))/2","as":"bxm"}],
      "mark":{"type":"text","fontSize":12,"fontWeight":"bold","baseline":"alphabetic","dy":2},"encoding":{"x":{"field":"bxm","type":"quantitative","axis":null},"y":{"field":"lv","type":"quantitative","axis":null},"text":{"field":"s"}}}
    ]},
   {"width":53,"height":1,"data":{"values":[{}]},"mark":{"type":"text","fontSize":0},"encoding":{"text":{"value":""}}},
   {"width":54,"height":83,"title":{"text":"C","dx":-46,"offset":-5},
    "resolve":{"axis":{"x":"independent","y":"independent"}},
    "layer":[
     {"data":{"name":"pts"},"transform":[{"filter":"datum.p=='C1'"},{"calculate":"(datum.g=='CON'?1:2)+(datum.k=='WT'?-0.25:0.25)","as":"pos"},{"aggregate":[{"op":"min","field":"v","as":"lo"},{"op":"max","field":"v","as":"hi"}],"groupby":["pos","k"]}],
      "mark":{"type":"bar","width":11,"stroke":"black","strokeWidth":1},
      "encoding":{"x":{"field":"pos","type":"quantitative","scale":{"domain":[0.5,2.5],"nice":false,"zero":false},"axis":{"values":[1,2],"labelExpr":"datum.value==1?'CON':'EtOH'","title":null,"labelFontSize":9}},
                  "y":{"field":"lo","type":"quantitative","scale":{"domain":[0,200],"nice":false},"axis":{"values":[0,50,100,150,200],"title":"Acetylcarnitine (nmol/g)"}},"y2":{"field":"hi"},
                  "fill":{"field":"k","type":"nominal","scale":{"domain":["WT","KO"],"range":["#a9a9a9","#ffffff"]},"legend":{"orient":"none","legendX":-16,"legendY":-25,"title":null,"symbolType":"square","symbolSize":70,"symbolStrokeColor":"black","symbolStrokeWidth":1,"labelFontSize":10,"rowPadding":2}}}},
     {"data":{"name":"pts"},"transform":[{"filter":"datum.p=='C1'"},{"calculate":"(datum.g=='CON'?1:2)+(datum.k=='WT'?-0.25:0.25)","as":"pos"},{"aggregate":[{"op":"median","field":"v","as":"md"}],"groupby":["pos"]}],
      "mark":{"type":"tick","orient":"horizontal","size":11,"thickness":1,"color":"black"},
      "encoding":{"x":{"field":"pos","type":"quantitative","axis":null},"y":{"field":"md","type":"quantitative","axis":null}}},
     {"data":{"name":"pts"},"transform":[{"filter":"datum.p=='C1'"},{"calculate":"(datum.g=='CON'?1:2)+(datum.k=='WT'?-0.25:0.25)","as":"pos"}],
      "mark":{"type":"point","filled":true,"size":20,"stroke":"black","strokeWidth":0.8,"opacity":1},
      "encoding":{"x":{"field":"pos","type":"quantitative","axis":null},"y":{"field":"v","type":"quantitative","axis":null},"fill":{"condition":{"test":"datum.k=='WT'","value":"black"},"value":"white"}}},
     {"data":{"name":"br"},"transform":[{"filter":"datum.p=='C1'"},{"calculate":"(datum.g1=='CON'?1:2)+(datum.k1=='WT'?-0.25:0.25)","as":"bx1"},{"calculate":"(datum.g2=='CON'?1:2)+(datum.k2=='WT'?-0.25:0.25)","as":"bx2"}],
      "mark":{"type":"rule","color":"black","strokeWidth":1},"encoding":{"x":{"field":"bx1","type":"quantitative","axis":null},"x2":{"field":"bx2"},"y":{"field":"lv","type":"quantitative","axis":null}}},
     {"data":{"name":"br"},"transform":[{"filter":"datum.p=='C1'"},{"calculate":"(datum.g1=='CON'?1:2)+(datum.k1=='WT'?-0.25:0.25)","as":"bx1"}],
      "mark":{"type":"rule","color":"black","strokeWidth":1},"encoding":{"x":{"field":"bx1","type":"quantitative","axis":null},"y":{"field":"lv","type":"quantitative","axis":null},"y2":{"field":"l1"}}},
     {"data":{"name":"br"},"transform":[{"filter":"datum.p=='C1'"},{"calculate":"(datum.g2=='CON'?1:2)+(datum.k2=='WT'?-0.25:0.25)","as":"bx2"}],
      "mark":{"type":"rule","color":"black","strokeWidth":1},"encoding":{"x":{"field":"bx2","type":"quantitative","axis":null},"y":{"field":"lv","type":"quantitative","axis":null},"y2":{"field":"l2"}}},
     {"data":{"name":"br"},"transform":[{"filter":"datum.p=='C1'"},{"calculate":"((datum.g1=='CON'?1:2)+(datum.k1=='WT'?-0.25:0.25)+(datum.g2=='CON'?1:2)+(datum.k2=='WT'?-0.25:0.25))/2","as":"bxm"}],
      "mark":{"type":"text","fontSize":12,"fontWeight":"bold","baseline":"alphabetic","dy":2},"encoding":{"x":{"field":"bxm","type":"quantitative","axis":null},"y":{"field":"lv","type":"quantitative","axis":null},"text":{"field":"s"}}}
    ]},
   {"width":48,"height":1,"data":{"values":[{}]},"mark":{"type":"text","fontSize":0},"encoding":{"text":{"value":""}}},
   {"width":60,"height":83,
    "resolve":{"axis":{"x":"independent","y":"independent"}},
    "layer":[
     {"data":{"name":"pts"},"transform":[{"filter":"datum.p=='C2'"},{"calculate":"(datum.g=='CON'?1:2)+(datum.k=='WT'?-0.25:0.25)","as":"pos"},{"aggregate":[{"op":"min","field":"v","as":"lo"},{"op":"max","field":"v","as":"hi"}],"groupby":["pos","k"]}],
      "mark":{"type":"bar","width":11,"stroke":"black","strokeWidth":1},
      "encoding":{"x":{"field":"pos","type":"quantitative","scale":{"domain":[0.5,2.5],"nice":false,"zero":false},"axis":{"values":[1,2],"labelExpr":"datum.value==1?'CON':'EtOH'","title":null,"labelFontSize":9}},
                  "y":{"field":"lo","type":"quantitative","scale":{"domain":[0,25],"nice":false},"axis":{"values":[0,5,10,15,20,25],"title":"Butyrylcarnitine (nmol/g)"}},"y2":{"field":"hi"},
                  "fill":{"field":"k","type":"nominal","scale":{"domain":["WT","KO"],"range":["#a9a9a9","#ffffff"]},"legend":null}}},
     {"data":{"name":"pts"},"transform":[{"filter":"datum.p=='C2'"},{"calculate":"(datum.g=='CON'?1:2)+(datum.k=='WT'?-0.25:0.25)","as":"pos"},{"aggregate":[{"op":"median","field":"v","as":"md"}],"groupby":["pos"]}],
      "mark":{"type":"tick","orient":"horizontal","size":11,"thickness":1,"color":"black"},
      "encoding":{"x":{"field":"pos","type":"quantitative","axis":null},"y":{"field":"md","type":"quantitative","axis":null}}},
     {"data":{"name":"pts"},"transform":[{"filter":"datum.p=='C2'"},{"calculate":"(datum.g=='CON'?1:2)+(datum.k=='WT'?-0.25:0.25)","as":"pos"}],
      "mark":{"type":"point","filled":true,"size":20,"stroke":"black","strokeWidth":0.8,"opacity":1},
      "encoding":{"x":{"field":"pos","type":"quantitative","axis":null},"y":{"field":"v","type":"quantitative","axis":null},"fill":{"condition":{"test":"datum.k=='WT'","value":"black"},"value":"white"}}},
     {"data":{"name":"br"},"transform":[{"filter":"datum.p=='C2'"},{"calculate":"(datum.g1=='CON'?1:2)+(datum.k1=='WT'?-0.25:0.25)","as":"bx1"},{"calculate":"(datum.g2=='CON'?1:2)+(datum.k2=='WT'?-0.25:0.25)","as":"bx2"}],
      "mark":{"type":"rule","color":"black","strokeWidth":1},"encoding":{"x":{"field":"bx1","type":"quantitative","axis":null},"x2":{"field":"bx2"},"y":{"field":"lv","type":"quantitative","axis":null}}},
     {"data":{"name":"br"},"transform":[{"filter":"datum.p=='C2'"},{"calculate":"(datum.g1=='CON'?1:2)+(datum.k1=='WT'?-0.25:0.25)","as":"bx1"}],
      "mark":{"type":"rule","color":"black","strokeWidth":1},"encoding":{"x":{"field":"bx1","type":"quantitative","axis":null},"y":{"field":"lv","type":"quantitative","axis":null},"y2":{"field":"l1"}}},
     {"data":{"name":"br"},"transform":[{"filter":"datum.p=='C2'"},{"calculate":"(datum.g2=='CON'?1:2)+(datum.k2=='WT'?-0.25:0.25)","as":"bx2"}],
      "mark":{"type":"rule","color":"black","strokeWidth":1},"encoding":{"x":{"field":"bx2","type":"quantitative","axis":null},"y":{"field":"lv","type":"quantitative","axis":null},"y2":{"field":"l2"}}},
     {"data":{"name":"br"},"transform":[{"filter":"datum.p=='C2'"},{"calculate":"((datum.g1=='CON'?1:2)+(datum.k1=='WT'?-0.25:0.25)+(datum.g2=='CON'?1:2)+(datum.k2=='WT'?-0.25:0.25))/2","as":"bxm"}],
      "mark":{"type":"text","fontSize":12,"fontWeight":"bold","baseline":"alphabetic","dy":2},"encoding":{"x":{"field":"bxm","type":"quantitative","axis":null},"y":{"field":"lv","type":"quantitative","axis":null},"text":{"field":"s"}}}
    ]}
  ]},
  {"width":1,"height":21,"data":{"values":[{}]},"mark":{"type":"text","fontSize":0},"encoding":{"text":{"value":""}}},
  {"bounds":"flush","spacing":0,
   "resolve":{"scale":{"fill":"independent","strokeDash":"independent","color":"independent"},"legend":{"fill":"independent","strokeDash":"independent","color":"independent"}},
   "hconcat":[
   {"width":40,"height":1,"data":{"values":[{}]},"mark":{"type":"text","fontSize":0},"encoding":{"text":{"value":""}}},
   {"width":64,"height":82,"title":{"text":"D","dx":-36,"offset":-5.5},
    "resolve":{"axis":{"x":"independent","y":"independent"}},
    "layer":[
     {"data":{"name":"pts"},"transform":[{"filter":"datum.p=='D1'"},{"calculate":"(datum.g=='CON'?1:2)+(datum.k=='WT'?-0.25:0.25)","as":"pos"},{"aggregate":[{"op":"min","field":"v","as":"lo"},{"op":"max","field":"v","as":"hi"}],"groupby":["pos","k"]}],
      "mark":{"type":"bar","width":11,"stroke":"black","strokeWidth":1},
      "encoding":{"x":{"field":"pos","type":"quantitative","scale":{"domain":[0.5,2.5],"nice":false,"zero":false},"axis":{"values":[1,2],"labelExpr":"datum.value==1?'CON':'EtOH'","title":null,"labelFontSize":9}},
                  "y":{"field":"lo","type":"quantitative","scale":{"domain":[0,10],"nice":false},"axis":{"values":[0,2,4,6,8,10],"title":"Nα-acetyllysine (nmol/g)"}},"y2":{"field":"hi"},
                  "fill":{"field":"k","type":"nominal","scale":{"domain":["WT","KO"],"range":["#a9a9a9","#ffffff"]},"legend":{"orient":"none","legendX":-6,"legendY":-24.5,"title":null,"symbolType":"square","symbolSize":70,"symbolStrokeColor":"black","symbolStrokeWidth":1,"labelFontSize":10,"rowPadding":2}}}},
     {"data":{"name":"pts"},"transform":[{"filter":"datum.p=='D1'"},{"calculate":"(datum.g=='CON'?1:2)+(datum.k=='WT'?-0.25:0.25)","as":"pos"},{"aggregate":[{"op":"median","field":"v","as":"md"}],"groupby":["pos"]}],
      "mark":{"type":"tick","orient":"horizontal","size":11,"thickness":1,"color":"black"},
      "encoding":{"x":{"field":"pos","type":"quantitative","axis":null},"y":{"field":"md","type":"quantitative","axis":null}}},
     {"data":{"name":"pts"},"transform":[{"filter":"datum.p=='D1'"},{"calculate":"(datum.g=='CON'?1:2)+(datum.k=='WT'?-0.25:0.25)","as":"pos"}],
      "mark":{"type":"point","filled":true,"size":20,"stroke":"black","strokeWidth":0.8,"opacity":1},
      "encoding":{"x":{"field":"pos","type":"quantitative","axis":null},"y":{"field":"v","type":"quantitative","axis":null},"fill":{"condition":{"test":"datum.k=='WT'","value":"black"},"value":"white"}}},
     {"data":{"name":"br"},"transform":[{"filter":"datum.p=='D1'"},{"calculate":"(datum.g1=='CON'?1:2)+(datum.k1=='WT'?-0.25:0.25)","as":"bx1"},{"calculate":"(datum.g2=='CON'?1:2)+(datum.k2=='WT'?-0.25:0.25)","as":"bx2"}],
      "mark":{"type":"rule","color":"black","strokeWidth":1},"encoding":{"x":{"field":"bx1","type":"quantitative","axis":null},"x2":{"field":"bx2"},"y":{"field":"lv","type":"quantitative","axis":null}}},
     {"data":{"name":"br"},"transform":[{"filter":"datum.p=='D1'"},{"calculate":"(datum.g1=='CON'?1:2)+(datum.k1=='WT'?-0.25:0.25)","as":"bx1"}],
      "mark":{"type":"rule","color":"black","strokeWidth":1},"encoding":{"x":{"field":"bx1","type":"quantitative","axis":null},"y":{"field":"lv","type":"quantitative","axis":null},"y2":{"field":"l1"}}},
     {"data":{"name":"br"},"transform":[{"filter":"datum.p=='D1'"},{"calculate":"(datum.g2=='CON'?1:2)+(datum.k2=='WT'?-0.25:0.25)","as":"bx2"}],
      "mark":{"type":"rule","color":"black","strokeWidth":1},"encoding":{"x":{"field":"bx2","type":"quantitative","axis":null},"y":{"field":"lv","type":"quantitative","axis":null},"y2":{"field":"l2"}}},
     {"data":{"name":"br"},"transform":[{"filter":"datum.p=='D1'"},{"calculate":"((datum.g1=='CON'?1:2)+(datum.k1=='WT'?-0.25:0.25)+(datum.g2=='CON'?1:2)+(datum.k2=='WT'?-0.25:0.25))/2","as":"bxm"}],
      "mark":{"type":"text","fontSize":12,"fontWeight":"bold","baseline":"alphabetic","dy":2},"encoding":{"x":{"field":"bxm","type":"quantitative","axis":null},"y":{"field":"lv","type":"quantitative","axis":null},"text":{"field":"s"}}}
    ]},
   {"width":38,"height":1,"data":{"values":[{}]},"mark":{"type":"text","fontSize":0},"encoding":{"text":{"value":""}}},
   {"width":68,"height":82,
    "resolve":{"axis":{"x":"independent","y":"independent"}},
    "layer":[
     {"data":{"name":"pts"},"transform":[{"filter":"datum.p=='D2'"},{"calculate":"(datum.g=='CON'?1:2)+(datum.k=='WT'?-0.25:0.25)","as":"pos"},{"aggregate":[{"op":"min","field":"v","as":"lo"},{"op":"max","field":"v","as":"hi"}],"groupby":["pos","k"]}],
      "mark":{"type":"bar","width":11,"stroke":"black","strokeWidth":1},
      "encoding":{"x":{"field":"pos","type":"quantitative","scale":{"domain":[0.5,2.5],"nice":false,"zero":false},"axis":{"values":[1,2],"labelExpr":"datum.value==1?'CON':'EtOH'","title":null,"labelFontSize":9}},
                  "y":{"field":"lo","type":"quantitative","scale":{"domain":[0,300],"nice":false},"axis":{"values":[0,100,200,300],"title":"N-acetylglutamate (nmol/g)"}},"y2":{"field":"hi"},
                  "fill":{"field":"k","type":"nominal","scale":{"domain":["WT","KO"],"range":["#a9a9a9","#ffffff"]},"legend":null}}},
     {"data":{"name":"pts"},"transform":[{"filter":"datum.p=='D2'"},{"calculate":"(datum.g=='CON'?1:2)+(datum.k=='WT'?-0.25:0.25)","as":"pos"},{"aggregate":[{"op":"median","field":"v","as":"md"}],"groupby":["pos"]}],
      "mark":{"type":"tick","orient":"horizontal","size":11,"thickness":1,"color":"black"},
      "encoding":{"x":{"field":"pos","type":"quantitative","axis":null},"y":{"field":"md","type":"quantitative","axis":null}}},
     {"data":{"name":"pts"},"transform":[{"filter":"datum.p=='D2'"},{"calculate":"(datum.g=='CON'?1:2)+(datum.k=='WT'?-0.25:0.25)","as":"pos"}],
      "mark":{"type":"point","filled":true,"size":20,"stroke":"black","strokeWidth":0.8,"opacity":1},
      "encoding":{"x":{"field":"pos","type":"quantitative","axis":null},"y":{"field":"v","type":"quantitative","axis":null},"fill":{"condition":{"test":"datum.k=='WT'","value":"black"},"value":"white"}}},
     {"data":{"name":"br"},"transform":[{"filter":"datum.p=='D2'"},{"calculate":"(datum.g1=='CON'?1:2)+(datum.k1=='WT'?-0.25:0.25)","as":"bx1"},{"calculate":"(datum.g2=='CON'?1:2)+(datum.k2=='WT'?-0.25:0.25)","as":"bx2"}],
      "mark":{"type":"rule","color":"black","strokeWidth":1},"encoding":{"x":{"field":"bx1","type":"quantitative","axis":null},"x2":{"field":"bx2"},"y":{"field":"lv","type":"quantitative","axis":null}}},
     {"data":{"name":"br"},"transform":[{"filter":"datum.p=='D2'"},{"calculate":"(datum.g1=='CON'?1:2)+(datum.k1=='WT'?-0.25:0.25)","as":"bx1"}],
      "mark":{"type":"rule","color":"black","strokeWidth":1},"encoding":{"x":{"field":"bx1","type":"quantitative","axis":null},"y":{"field":"lv","type":"quantitative","axis":null},"y2":{"field":"l1"}}},
     {"data":{"name":"br"},"transform":[{"filter":"datum.p=='D2'"},{"calculate":"(datum.g2=='CON'?1:2)+(datum.k2=='WT'?-0.25:0.25)","as":"bx2"}],
      "mark":{"type":"rule","color":"black","strokeWidth":1},"encoding":{"x":{"field":"bx2","type":"quantitative","axis":null},"y":{"field":"lv","type":"quantitative","axis":null},"y2":{"field":"l2"}}},
     {"data":{"name":"br"},"transform":[{"filter":"datum.p=='D2'"},{"calculate":"((datum.g1=='CON'?1:2)+(datum.k1=='WT'?-0.25:0.25)+(datum.g2=='CON'?1:2)+(datum.k2=='WT'?-0.25:0.25))/2","as":"bxm"}],
      "mark":{"type":"text","fontSize":12,"fontWeight":"bold","baseline":"alphabetic","dy":2},"encoding":{"x":{"field":"bxm","type":"quantitative","axis":null},"y":{"field":"lv","type":"quantitative","axis":null},"text":{"field":"s"}}}
    ]},
   {"width":64,"height":1,"data":{"values":[{}]},"mark":{"type":"text","fontSize":0},"encoding":{"text":{"value":""}}},
   {"width":70,"height":82,
    "resolve":{"axis":{"x":"independent","y":"independent"}},
    "layer":[
     {"data":{"name":"pts"},"transform":[{"filter":"datum.p=='D3'"},{"calculate":"(datum.g=='CON'?1:2)+(datum.k=='WT'?-0.25:0.25)","as":"pos"},{"aggregate":[{"op":"min","field":"v","as":"lo"},{"op":"max","field":"v","as":"hi"}],"groupby":["pos","k"]}],
      "mark":{"type":"bar","width":11,"stroke":"black","strokeWidth":1},
      "encoding":{"x":{"field":"pos","type":"quantitative","scale":{"domain":[0.5,2.5],"nice":false,"zero":false},"axis":{"values":[1,2],"labelExpr":"datum.value==1?'CON':'EtOH'","title":null,"labelFontSize":9}},
                  "y":{"field":"lo","type":"quantitative","scale":{"domain":[0,0.008],"nice":false},"axis":{"values":[0,0.002,0.004,0.006,0.008],"format":".3f","title":["N-acetylglutamate/glutamate","ratio"]}},"y2":{"field":"hi"},
                  "fill":{"field":"k","type":"nominal","scale":{"domain":["WT","KO"],"range":["#a9a9a9","#ffffff"]},"legend":null}}},
     {"data":{"name":"pts"},"transform":[{"filter":"datum.p=='D3'"},{"calculate":"(datum.g=='CON'?1:2)+(datum.k=='WT'?-0.25:0.25)","as":"pos"},{"aggregate":[{"op":"median","field":"v","as":"md"}],"groupby":["pos"]}],
      "mark":{"type":"tick","orient":"horizontal","size":11,"thickness":1,"color":"black"},
      "encoding":{"x":{"field":"pos","type":"quantitative","axis":null},"y":{"field":"md","type":"quantitative","axis":null}}},
     {"data":{"name":"pts"},"transform":[{"filter":"datum.p=='D3'"},{"calculate":"(datum.g=='CON'?1:2)+(datum.k=='WT'?-0.25:0.25)","as":"pos"}],
      "mark":{"type":"point","filled":true,"size":20,"stroke":"black","strokeWidth":0.8,"opacity":1},
      "encoding":{"x":{"field":"pos","type":"quantitative","axis":null},"y":{"field":"v","type":"quantitative","axis":null},"fill":{"condition":{"test":"datum.k=='WT'","value":"black"},"value":"white"}}}
    ]}
  ]},
  {"width":1,"height":31,"data":{"values":[{}]},"mark":{"type":"text","fontSize":0},"encoding":{"text":{"value":""}}},
  {"bounds":"flush","spacing":0,
   "resolve":{"scale":{"fill":"independent","strokeDash":"independent","color":"independent"},"legend":{"fill":"independent","strokeDash":"independent","color":"independent"}},
   "hconcat":[
   {"width":72,"height":1,"data":{"values":[{}]},"mark":{"type":"text","fontSize":0},"encoding":{"text":{"value":""}}},
   {"width":60,"height":81,"title":{"text":"E","dx":-40,"offset":-4},
    "resolve":{"axis":{"x":"independent","y":"independent"}},
    "layer":[
     {"data":{"name":"pts"},"transform":[{"filter":"datum.p=='E1'"},{"calculate":"(datum.g=='CON'?1:2)+(datum.k=='WT'?-0.25:0.25)","as":"pos"},{"aggregate":[{"op":"min","field":"v","as":"lo"},{"op":"max","field":"v","as":"hi"}],"groupby":["pos","k"]}],
      "mark":{"type":"bar","width":11,"stroke":"black","strokeWidth":1},
      "encoding":{"x":{"field":"pos","type":"quantitative","scale":{"domain":[0.5,2.5],"nice":false,"zero":false},"axis":{"values":[1,2],"labelExpr":"datum.value==1?'CON':'EtOH'","title":null,"labelFontSize":9}},
                  "y":{"field":"lo","type":"quantitative","scale":{"domain":[0,30],"nice":false},"axis":{"values":[0,10,20,30],"title":"Thiamine (nmol/g)"}},"y2":{"field":"hi"},
                  "fill":{"field":"k","type":"nominal","scale":{"domain":["WT","KO"],"range":["#a9a9a9","#ffffff"]},"legend":{"orient":"none","legendX":-17,"legendY":-26,"title":null,"symbolType":"square","symbolSize":70,"symbolStrokeColor":"black","symbolStrokeWidth":1,"labelFontSize":10,"rowPadding":2}}}},
     {"data":{"name":"pts"},"transform":[{"filter":"datum.p=='E1'"},{"calculate":"(datum.g=='CON'?1:2)+(datum.k=='WT'?-0.25:0.25)","as":"pos"},{"aggregate":[{"op":"median","field":"v","as":"md"}],"groupby":["pos"]}],
      "mark":{"type":"tick","orient":"horizontal","size":11,"thickness":1,"color":"black"},
      "encoding":{"x":{"field":"pos","type":"quantitative","axis":null},"y":{"field":"md","type":"quantitative","axis":null}}},
     {"data":{"name":"pts"},"transform":[{"filter":"datum.p=='E1'"},{"calculate":"(datum.g=='CON'?1:2)+(datum.k=='WT'?-0.25:0.25)","as":"pos"}],
      "mark":{"type":"point","filled":true,"size":20,"stroke":"black","strokeWidth":0.8,"opacity":1},
      "encoding":{"x":{"field":"pos","type":"quantitative","axis":null},"y":{"field":"v","type":"quantitative","axis":null},"fill":{"condition":{"test":"datum.k=='WT'","value":"black"},"value":"white"}}},
     {"data":{"name":"br"},"transform":[{"filter":"datum.p=='E1'"},{"calculate":"(datum.g1=='CON'?1:2)+(datum.k1=='WT'?-0.25:0.25)","as":"bx1"},{"calculate":"(datum.g2=='CON'?1:2)+(datum.k2=='WT'?-0.25:0.25)","as":"bx2"}],
      "mark":{"type":"rule","color":"black","strokeWidth":1},"encoding":{"x":{"field":"bx1","type":"quantitative","axis":null},"x2":{"field":"bx2"},"y":{"field":"lv","type":"quantitative","axis":null}}},
     {"data":{"name":"br"},"transform":[{"filter":"datum.p=='E1'"},{"calculate":"(datum.g1=='CON'?1:2)+(datum.k1=='WT'?-0.25:0.25)","as":"bx1"}],
      "mark":{"type":"rule","color":"black","strokeWidth":1},"encoding":{"x":{"field":"bx1","type":"quantitative","axis":null},"y":{"field":"lv","type":"quantitative","axis":null},"y2":{"field":"l1"}}},
     {"data":{"name":"br"},"transform":[{"filter":"datum.p=='E1'"},{"calculate":"(datum.g2=='CON'?1:2)+(datum.k2=='WT'?-0.25:0.25)","as":"bx2"}],
      "mark":{"type":"rule","color":"black","strokeWidth":1},"encoding":{"x":{"field":"bx2","type":"quantitative","axis":null},"y":{"field":"lv","type":"quantitative","axis":null},"y2":{"field":"l2"}}},
     {"data":{"name":"br"},"transform":[{"filter":"datum.p=='E1'"},{"calculate":"((datum.g1=='CON'?1:2)+(datum.k1=='WT'?-0.25:0.25)+(datum.g2=='CON'?1:2)+(datum.k2=='WT'?-0.25:0.25))/2","as":"bxm"}],
      "mark":{"type":"text","fontSize":12,"fontWeight":"bold","baseline":"alphabetic","dy":2},"encoding":{"x":{"field":"bxm","type":"quantitative","axis":null},"y":{"field":"lv","type":"quantitative","axis":null},"text":{"field":"s"}}}
    ]},
   {"width":55,"height":1,"data":{"values":[{}]},"mark":{"type":"text","fontSize":0},"encoding":{"text":{"value":""}}},
   {"width":62,"height":81,
    "resolve":{"axis":{"x":"independent","y":"independent"}},
    "layer":[
     {"data":{"name":"pts"},"transform":[{"filter":"datum.p=='E2'"},{"calculate":"(datum.g=='CON'?1:2)+(datum.k=='WT'?-0.25:0.25)","as":"pos"},{"aggregate":[{"op":"min","field":"v","as":"lo"},{"op":"max","field":"v","as":"hi"}],"groupby":["pos","k"]}],
      "mark":{"type":"bar","width":11,"stroke":"black","strokeWidth":1},
      "encoding":{"x":{"field":"pos","type":"quantitative","scale":{"domain":[0.5,2.5],"nice":false,"zero":false},"axis":{"values":[1,2],"labelExpr":"datum.value==1?'CON':'EtOH'","title":null,"labelFontSize":9}},
                  "y":{"field":"lo","type":"quantitative","scale":{"domain":[0,300],"nice":false},"axis":{"values":[0,100,200,300],"title":"2-hydroxyglutarate (nmol/g)"}},"y2":{"field":"hi"},
                  "fill":{"field":"k","type":"nominal","scale":{"domain":["WT","KO"],"range":["#a9a9a9","#ffffff"]},"legend":null}}},
     {"data":{"name":"pts"},"transform":[{"filter":"datum.p=='E2'"},{"calculate":"(datum.g=='CON'?1:2)+(datum.k=='WT'?-0.25:0.25)","as":"pos"},{"aggregate":[{"op":"median","field":"v","as":"md"}],"groupby":["pos"]}],
      "mark":{"type":"tick","orient":"horizontal","size":11,"thickness":1,"color":"black"},
      "encoding":{"x":{"field":"pos","type":"quantitative","axis":null},"y":{"field":"md","type":"quantitative","axis":null}}},
     {"data":{"name":"pts"},"transform":[{"filter":"datum.p=='E2'"},{"calculate":"(datum.g=='CON'?1:2)+(datum.k=='WT'?-0.25:0.25)","as":"pos"}],
      "mark":{"type":"point","filled":true,"size":20,"stroke":"black","strokeWidth":0.8,"opacity":1},
      "encoding":{"x":{"field":"pos","type":"quantitative","axis":null},"y":{"field":"v","type":"quantitative","axis":null},"fill":{"condition":{"test":"datum.k=='WT'","value":"black"},"value":"white"}}},
     {"data":{"name":"br"},"transform":[{"filter":"datum.p=='E2'"},{"calculate":"(datum.g1=='CON'?1:2)+(datum.k1=='WT'?-0.25:0.25)","as":"bx1"},{"calculate":"(datum.g2=='CON'?1:2)+(datum.k2=='WT'?-0.25:0.25)","as":"bx2"}],
      "mark":{"type":"rule","color":"black","strokeWidth":1},"encoding":{"x":{"field":"bx1","type":"quantitative","axis":null},"x2":{"field":"bx2"},"y":{"field":"lv","type":"quantitative","axis":null}}},
     {"data":{"name":"br"},"transform":[{"filter":"datum.p=='E2'"},{"calculate":"(datum.g1=='CON'?1:2)+(datum.k1=='WT'?-0.25:0.25)","as":"bx1"}],
      "mark":{"type":"rule","color":"black","strokeWidth":1},"encoding":{"x":{"field":"bx1","type":"quantitative","axis":null},"y":{"field":"lv","type":"quantitative","axis":null},"y2":{"field":"l1"}}},
     {"data":{"name":"br"},"transform":[{"filter":"datum.p=='E2'"},{"calculate":"(datum.g2=='CON'?1:2)+(datum.k2=='WT'?-0.25:0.25)","as":"bx2"}],
      "mark":{"type":"rule","color":"black","strokeWidth":1},"encoding":{"x":{"field":"bx2","type":"quantitative","axis":null},"y":{"field":"lv","type":"quantitative","axis":null},"y2":{"field":"l2"}}},
     {"data":{"name":"br"},"transform":[{"filter":"datum.p=='E2'"},{"calculate":"((datum.g1=='CON'?1:2)+(datum.k1=='WT'?-0.25:0.25)+(datum.g2=='CON'?1:2)+(datum.k2=='WT'?-0.25:0.25))/2","as":"bxm"}],
      "mark":{"type":"text","fontSize":12,"fontWeight":"bold","baseline":"alphabetic","dy":2},"encoding":{"x":{"field":"bxm","type":"quantitative","axis":null},"y":{"field":"lv","type":"quantitative","axis":null},"text":{"field":"s"}}}
    ]}
  ]}
 ]}
]
}
